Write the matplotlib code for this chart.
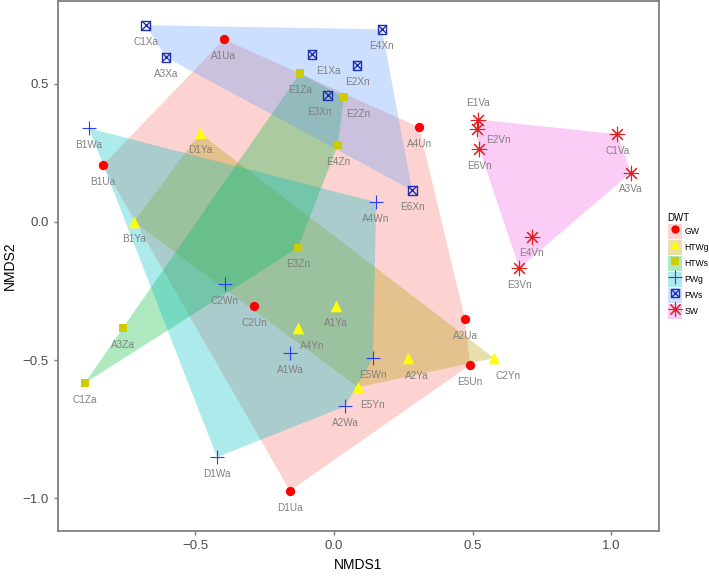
import numpy as np
import matplotlib
matplotlib.use("Agg")
import matplotlib.pyplot as plt
from matplotlib.patches import Patch
from matplotlib.lines import Line2D
from matplotlib.legend_handler import HandlerTuple

plt.rcParams['font.family'] = ['Liberation Sans', 'DejaVu Sans']

# NMDS scores per group
gw_lab = ["A1Ua", "B1Ua", "A4Un", "C2Un", "A2Ua", "E5Un", "D1Ua"]
gw_x = [-0.397, -0.834, 0.307, -0.289, 0.473, 0.491, -0.159]
gw_y = [0.660, 0.205, 0.342, -0.305, -0.352, -0.518, -0.973]

htwg_lab = ["D1Ya", "B1Ya", "A1Ya", "A4Yn", "A2Ya", "C2Yn", "E5Yn"]
htwg_x = [-0.484, -0.722, 0.007, -0.130, 0.267, 0.578, 0.087]
htwg_y = [0.320, 0.000, -0.305, -0.384, -0.493, -0.493, -0.598]

htws_lab = ["E1Za", "E2Zn", "E4Zn", "E3Zn", "A3Za", "C1Za"]
htws_x = [-0.123, 0.036, 0.014, -0.130, -0.762, -0.899]
htws_y = [0.537, 0.451, 0.277, -0.093, -0.384, -0.583]

pwg_lab = ["B1Wa", "A4Wn", "C2Wn", "A1Wa", "E5Wn", "A2Wa", "D1Wa"]
pwg_x = [-0.884, 0.152, -0.394, -0.159, 0.141, 0.040, -0.422]
pwg_y = [0.338, 0.071, -0.226, -0.475, -0.493, -0.667, -0.851]

pws_lab = ["C1Xa", "A3Xa", "E1Xa", "E4Xn", "E2Xn", "E3Xn", "E6Xn"]
pws_x = [-0.679, -0.606, -0.079, 0.173, 0.083, -0.022, 0.282]
pws_y = [0.711, 0.595, 0.606, 0.696, 0.566, 0.458, 0.114]

sw_lab = ["E1Va", "E2Vn", "E6Vn", "C1Va", "A3Va", "E4Vn", "E3Vn"]
sw_x = [0.521, 0.515, 0.525, 1.023, 1.072, 0.714, 0.669]
sw_y = [0.370, 0.335, 0.262, 0.317, 0.178, -0.054, -0.168]

groups = ["GW", "HTWg", "HTWs", "PWg", "PWs", "SW"]

# label nudges (points), default is straight below
nudge = {"A4Yn": (10, -13), "C2Yn": (10, -13), "E5Yn": (10, -13), "A2Ya": (6, -13),
         "E2Zn": (10, -12), "E3Xn": (-6, -12), "E1Xa": (12, -12),
         "E1Va": (0, 12), "E2Vn": (16, -8)}


def hull(x, y):
    pts = sorted(zip(x, y))
    def cross(o, a, b):
        return (a[0]-o[0])*(b[1]-o[1]) - (a[1]-o[1])*(b[0]-o[0])
    lower, upper = [], []
    for p in pts:
        while len(lower) >= 2 and cross(lower[-2], lower[-1], p) <= 0:
            lower.pop()
        lower.append(p)
    for p in reversed(pts):
        while len(upper) >= 2 and cross(upper[-2], upper[-1], p) <= 0:
            upper.pop()
        upper.append(p)
    return np.array(lower[:-1] + upper[:-1])


fills = ["#F8766D", "#B79F00", "#00BA38", "#00BFC4", "#619CFF", "#F564E3"]
alpha = 0.32
data = [(gw_lab, gw_x, gw_y), (htwg_lab, htwg_x, htwg_y), (htws_lab, htws_x, htws_y),
        (pwg_lab, pwg_x, pwg_y), (pws_lab, pws_x, pws_y), (sw_lab, sw_x, sw_y)]

fig = plt.figure(figsize=(7.09, 5.76), dpi=100)
ax = fig.add_axes([0.0818, 0.0781, 0.8477, 0.9199])

for (lab, x, y), c in zip(data, fills):
    h = hull(x, y)
    ax.fill(h[:, 0], h[:, 1], color=c, alpha=alpha, lw=0, zorder=1)

ax.scatter(gw_x, gw_y, s=45, c="red", marker="o", lw=0, zorder=3)
ax.scatter(htwg_x, htwg_y, s=70, c="yellow", marker="^", lw=0, zorder=3)
ax.scatter(htws_x, htws_y, s=40, c="#CCCC00", marker="s", lw=0, zorder=3)
ax.scatter(pwg_x, pwg_y, s=110, c="#2B3BFF", marker="+", lw=0.8, zorder=3)
ax.scatter(pws_x, pws_y, s=40, facecolors="none", edgecolors="#1F2FB0", marker="s", lw=1.0, zorder=3)
ax.scatter(pws_x, pws_y, s=40, c="#1F2FB0", marker="x", lw=1.0, zorder=3)
ax.scatter(sw_x, sw_y, s=110, c="#E02020", marker=(8, 2, 0), lw=0.8, zorder=3)

for lab, x, y in data:
    for l, xi, yi in zip(lab, x, y):
        dx, dy = nudge.get(l, (0, -12))
        ax.annotate(l, (xi, yi), xytext=(dx, dy), textcoords="offset points",
                    ha="center", va="center", fontsize=7.2, color="#808080", zorder=4)

ax.set_xlim(-0.996, 1.173)
ax.set_ylim(-1.118, 0.798)
ax.set_xticks([-0.5, 0.0, 0.5, 1.0])
ax.set_yticks([-1.0, -0.5, 0.0, 0.5])
ax.tick_params(colors="#7F7F7F", labelcolor="#4D4D4D", labelsize=9.5, length=3, width=1)
for s in ax.spines.values():
    s.set_color("#7F7F7F")
    s.set_linewidth(1.3)
ax.set_xlabel("NMDS1", fontsize=10)
ax.set_ylabel("NMDS2", fontsize=10)

handles = [
    (Patch(color=fills[0], alpha=alpha, lw=0), Line2D([], [], marker="o", color="red", ls="", ms=6, mew=0)),
    (Patch(color=fills[1], alpha=alpha, lw=0), Line2D([], [], marker="^", color="yellow", ls="", ms=7.5, mew=0)),
    (Patch(color=fills[2], alpha=alpha, lw=0), Line2D([], [], marker="s", color="#CCCC00", ls="", ms=5.5, mew=0)),
    (Patch(color=fills[3], alpha=alpha, lw=0), Line2D([], [], marker="+", color="#2B3BFF", ls="", ms=10, mew=0.8)),
    (Patch(color=fills[4], alpha=alpha, lw=0), Line2D([], [], marker="s", mfc="none", mec="#1F2FB0", ls="", ms=6, mew=1.0),
     Line2D([], [], marker="x", color="#1F2FB0", ls="", ms=6, mew=1.0)),
    (Patch(color=fills[5], alpha=alpha, lw=0), Line2D([], [], marker=(8, 2, 0), color="#E02020", ls="", ms=10, mew=0.8)),
]
leg = fig.legend(handles, groups, loc="upper left", bbox_to_anchor=(0.9393, 0.634),
                 title="DWT", fontsize=6.2, title_fontsize=7, frameon=False,
                 handler_map={tuple: HandlerTuple(ndivide=1, pad=0)},
                 handlelength=1.63, handleheight=2.3, handletextpad=0.3,
                 labelspacing=0.12, borderpad=0.2, borderaxespad=0)
leg._legend_box.align = "left"

fig.savefig("out.png", dpi=100)
